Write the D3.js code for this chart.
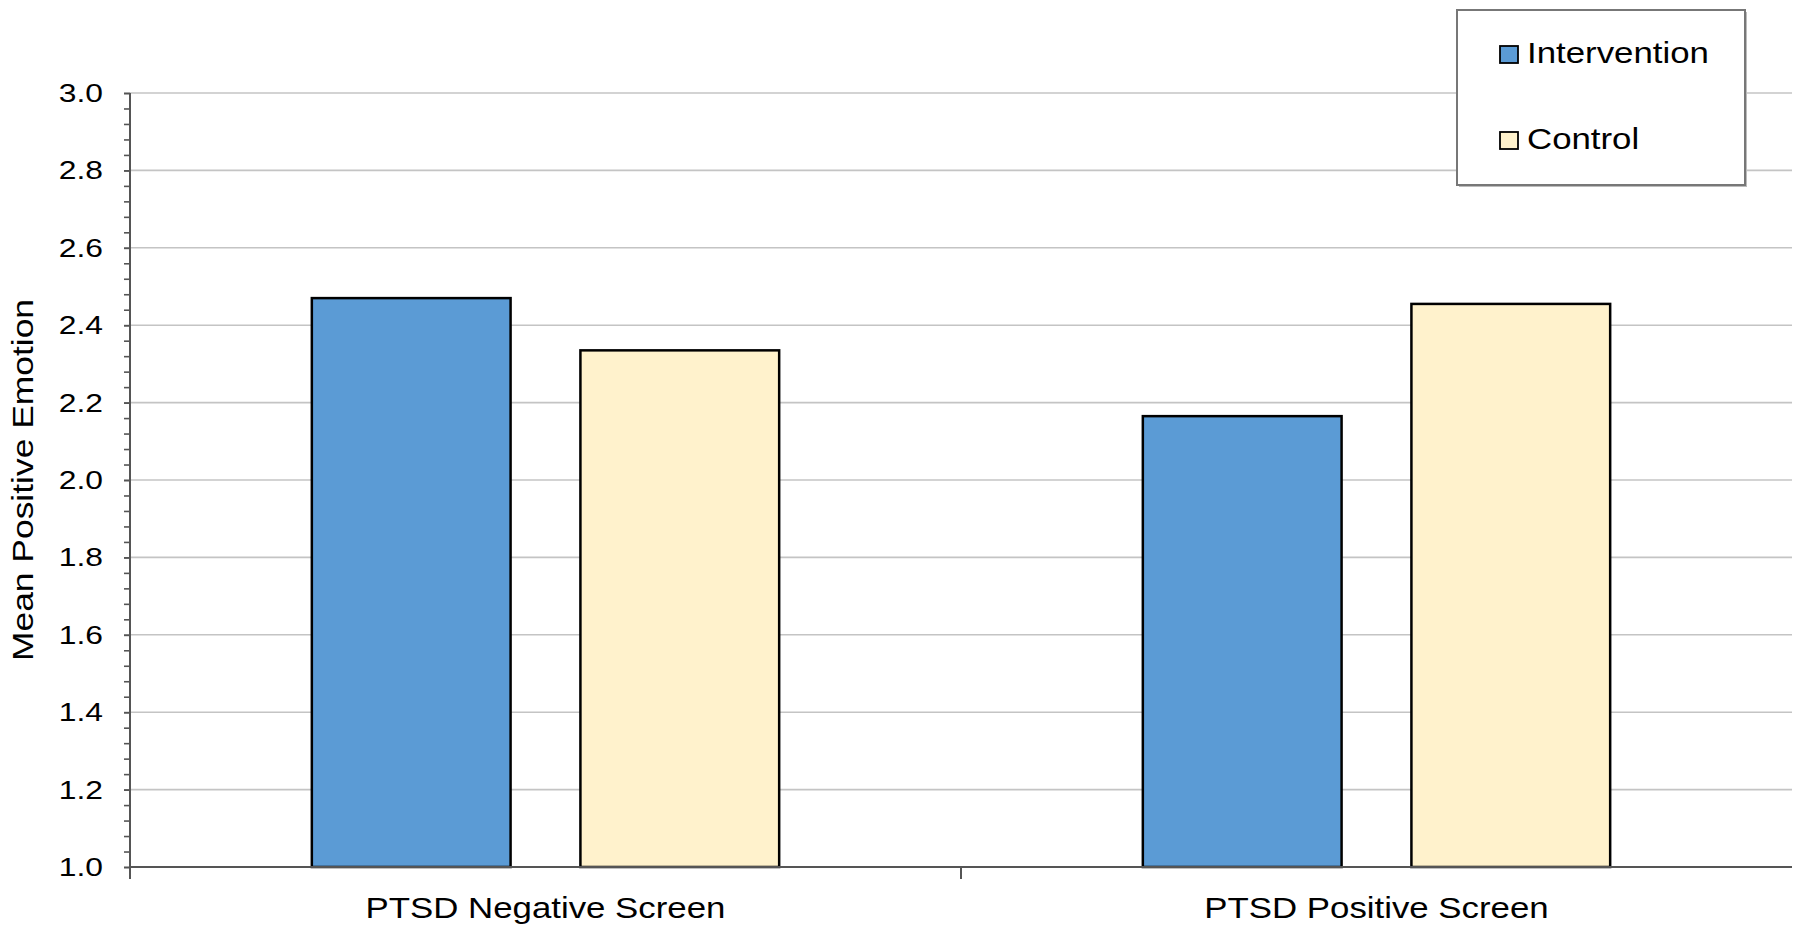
<!DOCTYPE html>
<html>
<head>
<meta charset="utf-8">
<script src="https://cdn.jsdelivr.net/npm/d3@7"></script>
<style>
  html, body { margin: 0; padding: 0; background: #fff; }
  svg { display: block; }
  text { font-family: "Liberation Sans", Arial, Helvetica, sans-serif; fill: #000; }
</style>
</head>
<body>
<svg id="chart" width="1800" height="935"></svg>
<script>
// ---- Data ----
const categories = ["PTSD Negative Screen", "PTSD Positive Screen"];
const seriesNames = ["Intervention", "Control"];
const interventionValues = [2.47, 2.165];
const controlValues = [2.335, 2.455];
const yTickValues = [1.0, 1.2, 1.4, 1.6, 1.8, 2.0, 2.2, 2.4, 2.6, 2.8, 3.0];
const yTitle = "Mean Positive Emotion";

// ---- Styles / layout ----
const colors = { Intervention: "#5B9BD5", Control: "#FFF2CC" };
const margin = { left: 130, right: 8, top: 93, bottom: 68 };
const W = 1800, H = 935;
const stretch = 1.2; // reference text is horizontally widened

const svg = d3.select("#chart");
const x0 = d3.scaleBand().domain(categories).range([margin.left, W - margin.right]).paddingInner(0).paddingOuter(0);
const x1 = d3.scaleBand().domain(seriesNames).range([0, x0.bandwidth()]).paddingInner(0.26).paddingOuter(0.677);
const y = d3.scaleLinear().domain([1, 3]).range([H - margin.bottom, margin.top]);

const table = categories.map((c, i) => ({ cat: c, Intervention: interventionValues[i], Control: controlValues[i] }));

// gridlines
svg.append("g").selectAll("line").data(yTickValues.filter(v => v > 1)).join("line")
  .attr("x1", margin.left).attr("x2", W - margin.right)
  .attr("y1", d => y(d)).attr("y2", d => y(d))
  .attr("stroke", "#c4c4c4").attr("stroke-width", 1.6);

// bars
const groups = svg.append("g").selectAll("g").data(table).join("g")
  .attr("transform", d => `translate(${x0(d.cat)},0)`);
groups.selectAll("rect").data(d => seriesNames.map(s => ({ s, v: d[s] }))).join("rect")
  .attr("x", d => x1(d.s)).attr("width", x1.bandwidth())
  .attr("y", d => y(d.v)).attr("height", d => y(1) - y(d.v))
  .attr("fill", d => colors[d.s]).attr("stroke", "#000").attr("stroke-width", 2.5);

// y axis with minor ticks
const minorTicks = d3.range(1, 3.0001, 0.04);
const yMinor = d3.axisLeft(y).tickValues(minorTicks).tickSize(6).tickFormat("");
const yg = svg.append("g").attr("transform", `translate(${margin.left},0)`).call(yMinor);
yg.select(".domain").remove();
yg.selectAll("line").attr("stroke", "#555").attr("stroke-width", 1.6);

const yAxis = d3.axisLeft(y).tickValues(yTickValues).tickSize(6).tickPadding(21).tickFormat(d3.format(".1f"));
const ya = svg.append("g").attr("transform", `translate(${margin.left},0)`).call(yAxis);
ya.select(".domain").remove();
ya.selectAll("line").attr("stroke", "#555").attr("stroke-width", 1.6);
ya.selectAll("text").style("font-size", "26.5px").attr("fill", "#000");

// y axis line (extends below x axis)
svg.append("line").attr("x1", margin.left).attr("x2", margin.left)
  .attr("y1", y(3)).attr("y2", y(1) + 12).attr("stroke", "#555").attr("stroke-width", 2);

// x axis
svg.append("line").attr("x1", margin.left).attr("x2", W - margin.right)
  .attr("y1", y(1)).attr("y2", y(1)).attr("stroke", "#555").attr("stroke-width", 2.2);
const xg = svg.append("g");
xg.selectAll("line").data(categories.slice(1)).join("line")
  .attr("x1", d => x0(d)).attr("x2", d => x0(d))
  .attr("y1", y(1)).attr("y2", y(1) + 12).attr("stroke", "#555").attr("stroke-width", 2);
xg.selectAll("text").data(categories).join("text")
  .attr("x", d => x0(d) + x0.bandwidth() / 2).attr("y", y(1) + 51)
  .attr("text-anchor", "middle").style("font-size", "29px").text(d => d);

// y title
svg.append("text")
  .attr("transform", `translate(33,${(y(1) + y(3)) / 2}) rotate(-90)`)
  .attr("text-anchor", "middle").style("font-size", "29.5px").text(yTitle);

// legend
const lg = svg.append("g").attr("transform", "translate(1457,10)");
lg.append("rect").attr("x", 2).attr("y", 2).attr("width", 288).attr("height", 175).attr("fill", "#bbb");
lg.append("rect").attr("width", 288).attr("height", 175).attr("fill", "#fff").attr("stroke", "#777").attr("stroke-width", 2);
const li = lg.selectAll("g.item").data(seriesNames).join("g").attr("class", "item")
  .attr("transform", (d, i) => `translate(43,${36 + i * 86})`);
li.append("rect").attr("width", 18).attr("height", 17)
  .attr("fill", d => colors[d]).attr("stroke", "#000").attr("stroke-width", 1.8);
li.append("text").attr("x", 27).attr("y", 17).style("font-size", "29px").text(d => d);

// widen all text horizontally to match reference
svg.selectAll("text").each(function () {
  const len = this.getComputedTextLength();
  if (len > 0) d3.select(this).attr("textLength", len * stretch).attr("lengthAdjust", "spacingAndGlyphs");
});
</script>
</body>
</html>
